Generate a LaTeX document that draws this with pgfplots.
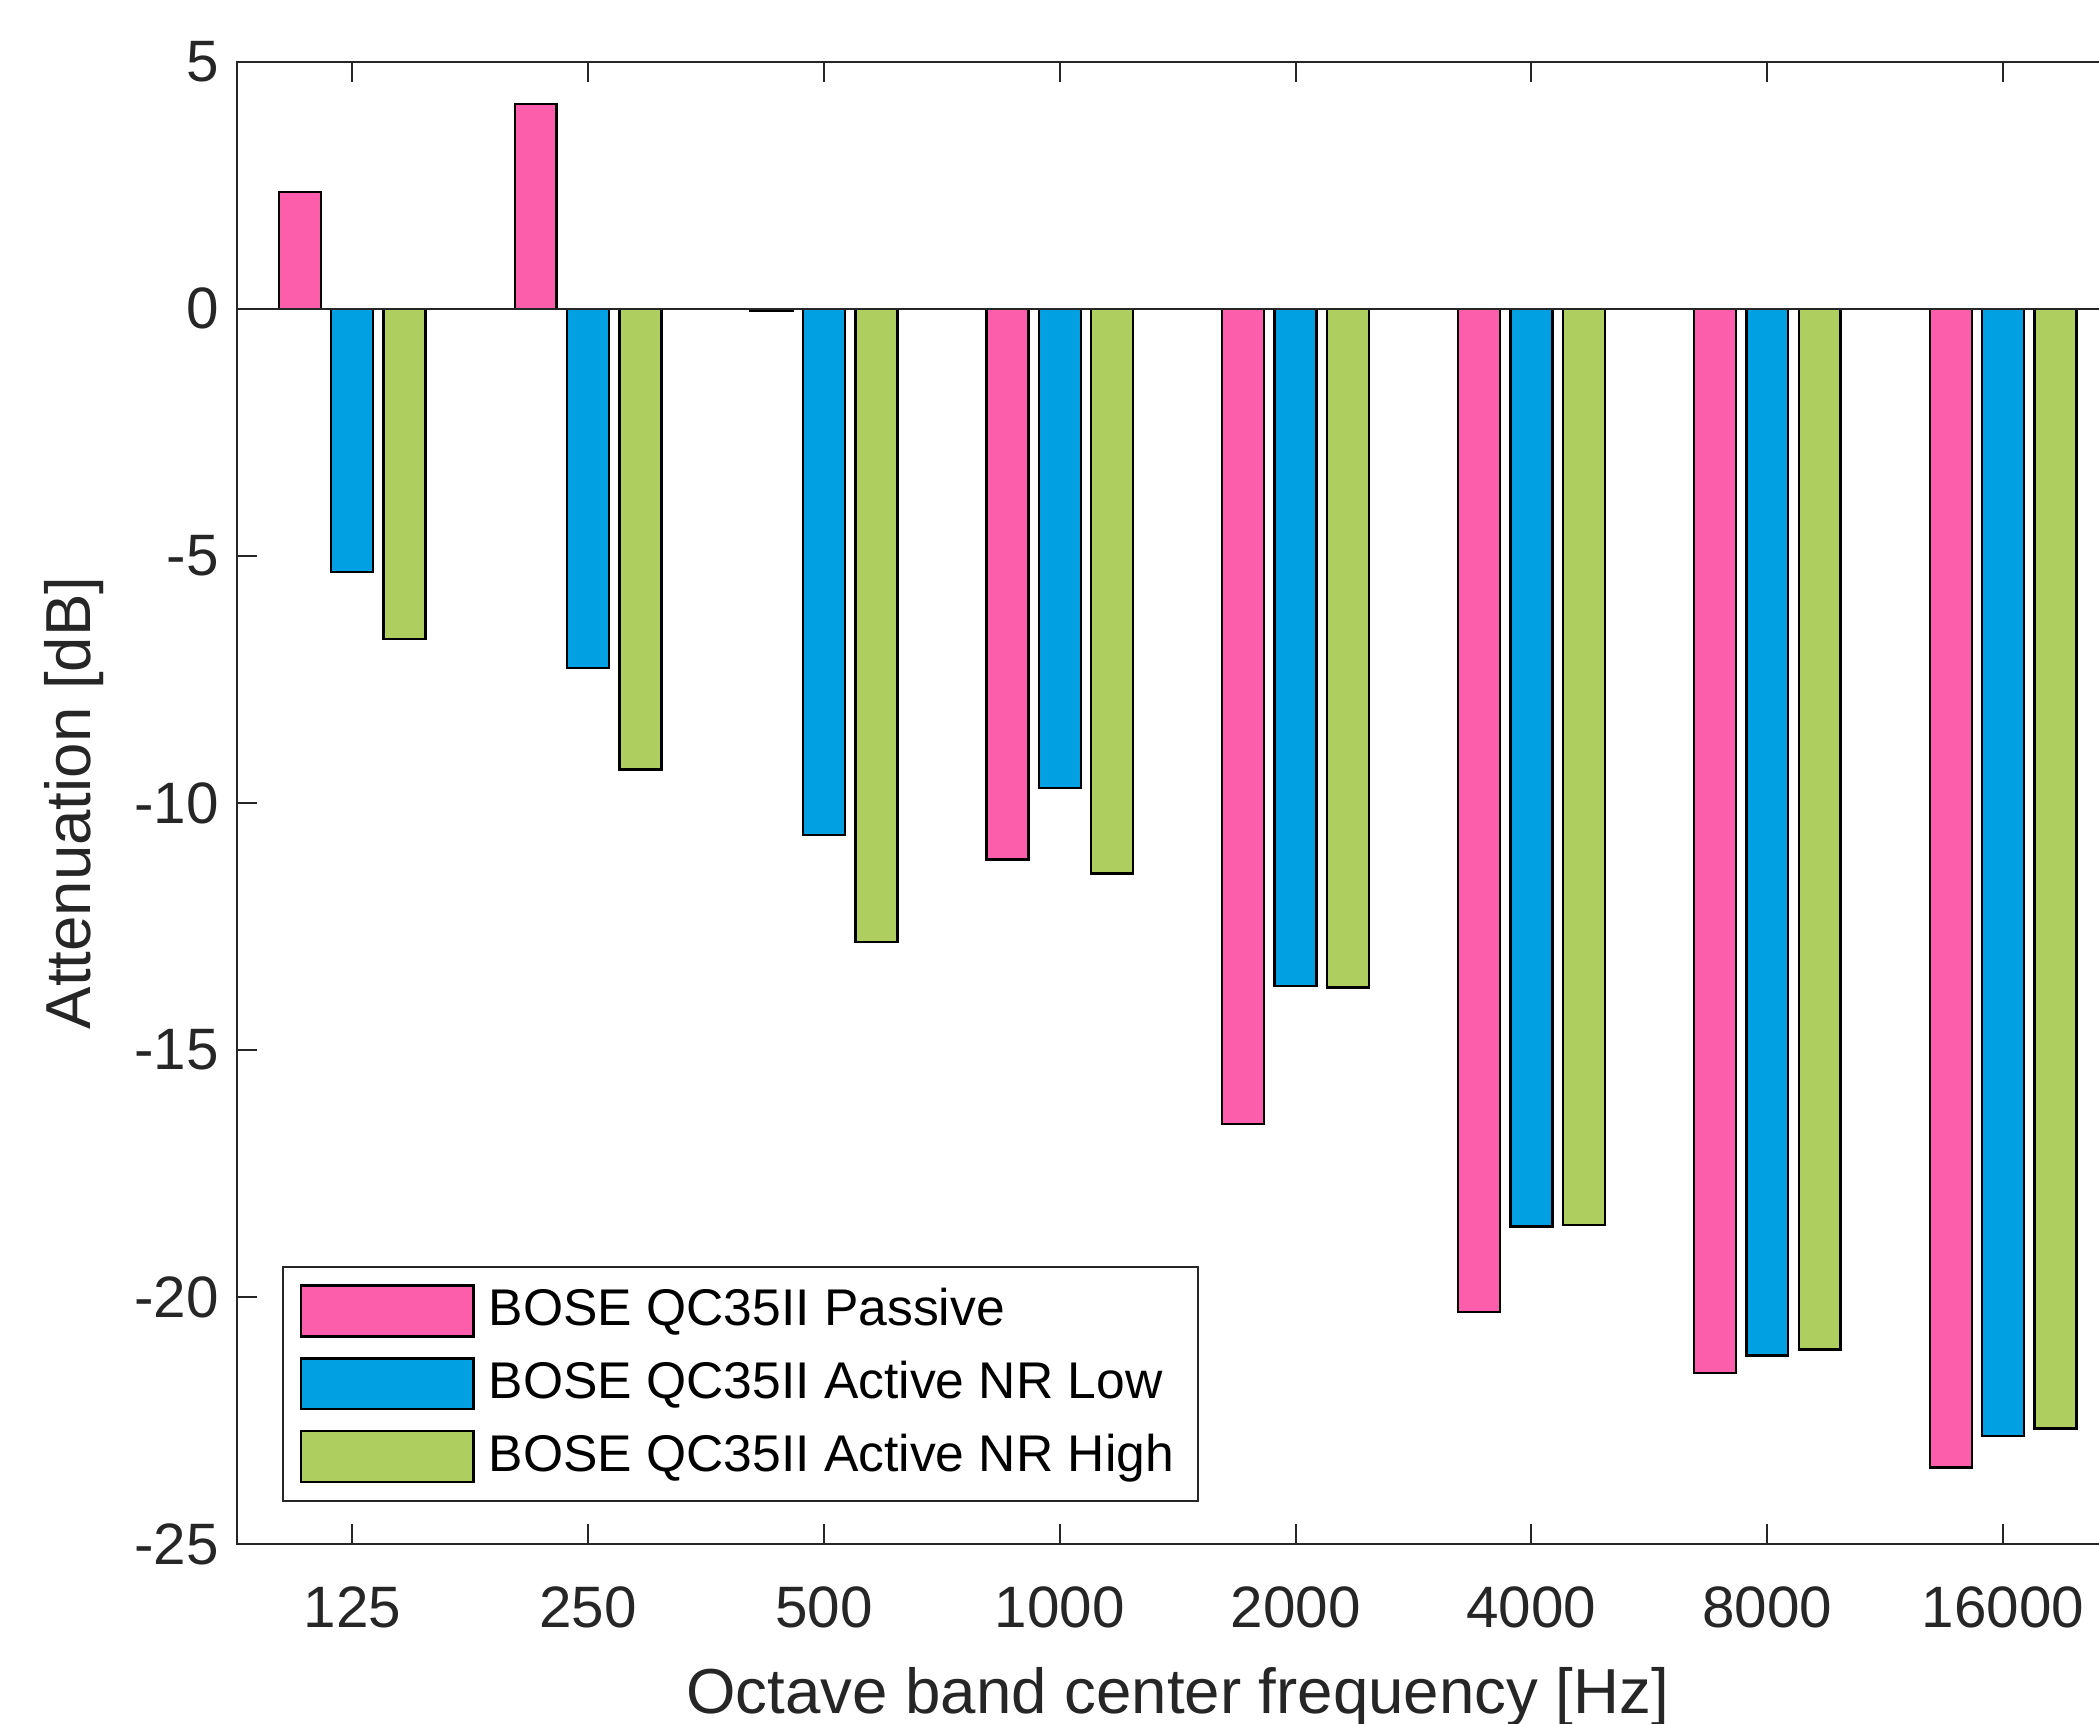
\documentclass[border=0pt]{standalone}
\usepackage{fontspec}
\setmainfont{Liberation Sans}
\usepackage{pgfplots}
\usepackage{pgfplotstable}
\pgfplotsset{compat=1.18}
\definecolor{cpink}{RGB}{252,94,172}
\definecolor{cblue}{RGB}{0,160,226}
\definecolor{cgreen}{RGB}{174,207,95}
\definecolor{axgray}{RGB}{38,38,38}

\pgfplotstableread{
x p l h
1 2.36 -5.32 -6.68
2 4.15 -7.27 -9.32
3 -0.05 -10.65 -12.81
4 -11.14 -9.70 -11.43
5 -16.49 -13.70 -13.73
6 -20.30 -18.57 -18.54
7 -21.53 -21.18 -21.06
8 -23.45 -22.81 -22.66
}\data

\pgfplotsset{
  mylegend/.style={legend image code/.code={\draw[##1] (0pt,-6.35pt) rectangle (43.1pt,6.35pt); \path (44.6pt,0pt);}},
}

\begin{document}
\begin{tikzpicture}
\begin{scope}
\clip (-59.175pt,-44.925pt) rectangle (465.575pt,386.075pt);
\begin{axis}[
  scale only axis,
  width=470.5pt, height=370.65pt,
  xmin=0.51, xmax=8.49,
  ymin=-25, ymax=5,
  xtick={1,2,3,4,5,6,7,8},
  xticklabels={125,250,500,1000,2000,4000,8000,16000},
  ytick={-25,-20,-15,-10,-5,0,5},
  yticklabels={-25,-20,-15,-10,-5,0,5},
  tick align=inside,
  major tick length=5pt,
  axis line style={draw=axgray, line width=0.5pt},
  every tick/.style={draw=axgray, line width=0.5pt},
  tick label style={font=\fontsize{14.6}{17}\selectfont, text=axgray},
  xticklabel style={anchor=base, yshift=-20.9pt},
  yticklabel style={anchor=east, xshift=-1pt},
  xlabel={Octave band center frequency [Hz]},
  ylabel={Attenuation [dB]},
  label style={font=\fontsize{15.9}{19}\selectfont, text=axgray},
  xlabel style={at={(axis description cs:0.5,-0.1138)}, anchor=base},
  ylabel style={at={(axis description cs:-0.0865,0.5)}, rotate=0, anchor=center},
  legend style={at={(axis description cs:0.0243,0.0287)}, anchor=south west,
    draw=axgray, line width=0.5pt, inner xsep=4.1pt, inner ysep=3.3pt,
    row sep=2.75pt, font=\fontsize{12.9}{15}\selectfont,
    cells={anchor=west}, nodes={inner sep=2pt, text depth=0.21em}},
  legend cell align=left,
]
\addplot[ybar, bar width=0.1778, bar shift=-0.2222, fill=cpink, draw=black, line width=0.6pt, mylegend] table[x=x,y=p]{\data};
\addplot[ybar, bar width=0.1778, bar shift=0, fill=cblue, draw=black, line width=0.6pt, mylegend] table[x=x,y=l]{\data};
\addplot[ybar, bar width=0.1778, bar shift=0.2222, fill=cgreen, draw=black, line width=0.6pt, mylegend] table[x=x,y=h]{\data};
\addplot[axgray, line width=0.5pt, no marks, sharp plot, forget plot] coordinates {(0.51,0) (8.49,0)};
\legend{BOSE QC35II Passive, BOSE QC35II Active NR Low, BOSE QC35II Active NR High}
\end{axis}
\end{scope}
\pgfresetboundingbox
\path[use as bounding box] (-59.175pt,-44.925pt) rectangle (465.575pt,386.075pt);
\end{tikzpicture}
\end{document}
